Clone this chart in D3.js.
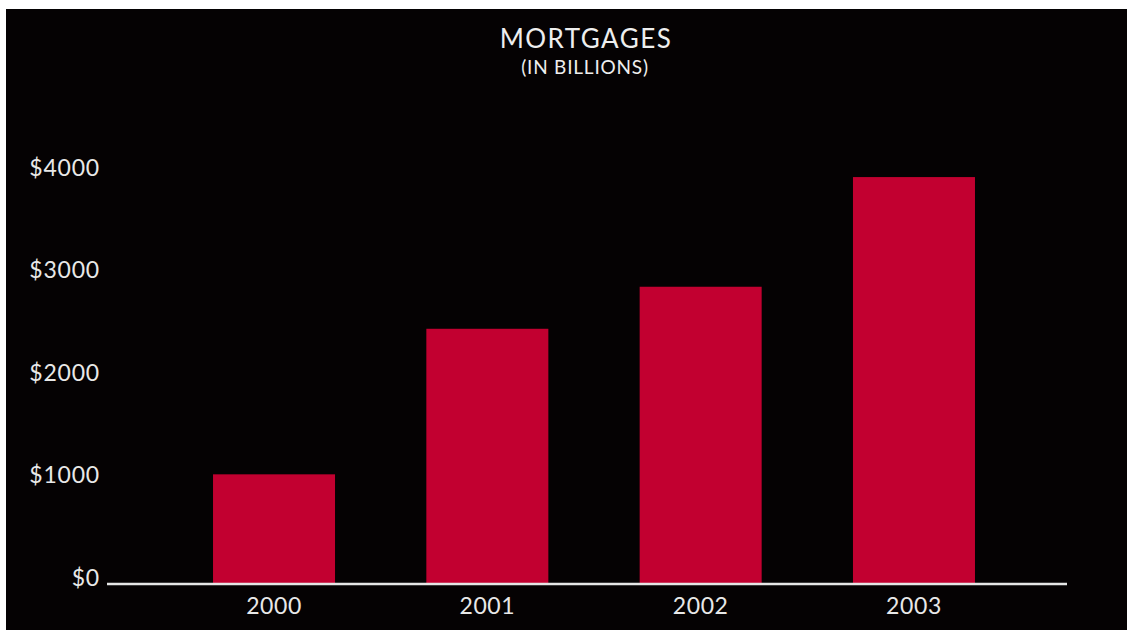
<!DOCTYPE html>
<html>
<head>
<meta charset="utf-8">
<script src="https://cdn.jsdelivr.net/npm/d3@7"></script>
<style>
  html, body { margin: 0; padding: 0; background: #ffffff; }
  svg { display: block; }
</style>
</head>
<body>
<svg id="chart" width="1127" height="630"></svg>
<script>
const years = ["2000", "2001", "2002", "2003"];
const mortgages = [1070, 2490, 2900, 3970];
const yTicks = [0, 1000, 2000, 3000, 4000];
const titleText = "MORTGAGES";
const subtitleText = "(IN BILLIONS)";

const W = 1127, H = 630;
const svg = d3.select("#chart");
const font = "Lato, 'Open Sans', sans-serif";

svg.append("rect").attr("x", 6).attr("y", 9).attr("width", W - 6).attr("height", H - 9).attr("fill", "#050203");

const x = d3.scaleBand().domain(years).range([107, 1081]).paddingInner(0.428).paddingOuter(0.497);
const y = d3.scaleLinear().domain([0, 4000]).range([584, 174]);

const data = years.map((yr, i) => ({ year: yr, value: mortgages[i] }));

svg.append("g").selectAll("rect").data(data).join("rect")
  .attr("x", d => x(d.year))
  .attr("y", d => y(d.value))
  .attr("width", x.bandwidth())
  .attr("height", d => y(0) - y(d.value))
  .attr("fill", "#c20030");

// x axis
const xAxis = svg.append("g").attr("transform", `translate(0,${y(0)})`)
  .call(d3.axisBottom(x).tickSize(0).tickPadding(14));
xAxis.select(".domain").attr("stroke", "#e6e6e6").attr("stroke-width", 2.5).attr("d", "M107,0H1067");
xAxis.selectAll("text").attr("fill", "#e8e8e8").attr("font-size", 23).attr("font-weight", 400)
  .attr("letter-spacing", 0.6).attr("font-family", font).attr("dy", "0.71em");

// y axis labels
const yAxis = svg.append("g").attr("transform", "translate(100,-6)")
  .call(d3.axisLeft(y).tickValues(yTicks).tickSize(0).tickPadding(0).tickFormat(d => "$" + d));
yAxis.select(".domain").remove();
yAxis.selectAll("text").attr("fill", "#e8e8e8").attr("font-size", 23).attr("font-weight", 400)
  .attr("letter-spacing", 0.8).attr("font-family", font);

svg.append("text").attr("x", 586).attr("y", 48).attr("text-anchor", "middle")
  .attr("fill", "#eeeeee").attr("font-size", 26).attr("font-weight", 400).attr("font-family", font)
  .attr("letter-spacing", 1.5).text(titleText);
svg.append("text").attr("x", 585).attr("y", 74).attr("text-anchor", "middle")
  .attr("fill", "#eeeeee").attr("font-size", 19).attr("font-weight", 400).attr("font-family", font)
  .attr("letter-spacing", 0.8).text(subtitleText);
</script>
</body>
</html>
